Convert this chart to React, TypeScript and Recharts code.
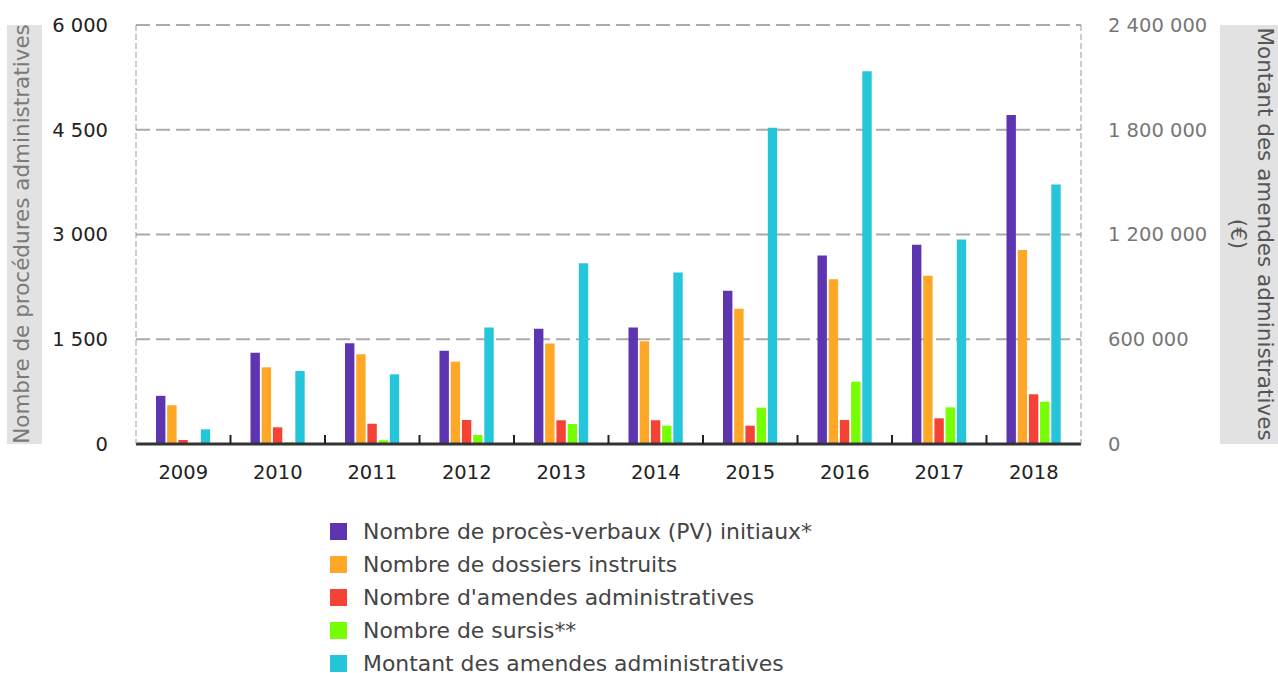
import React from 'react';
import { BarChart, Bar, XAxis, YAxis, CartesianGrid, Legend } from 'recharts';

const years = ['2009', '2010', '2011', '2012', '2013', '2014', '2015', '2016', '2017', '2018'];
const pvInitiaux = [690, 1307, 1442, 1336, 1650, 1670, 2195, 2700, 2855, 4710];
const dossiersInstruits = [555, 1098, 1284, 1179, 1440, 1470, 1938, 2360, 2410, 2778];
const amendes = [57, 239, 290, 344, 340, 340, 262, 344, 368, 712];
const sursis = [0, 25, 53, 129, 286, 262, 520, 892, 525, 606];
const montant = [84000, 418000, 399000, 668000, 1035000, 983000, 1812000, 2135000, 1172000, 1487000];

const leftTicks = [0, 1500, 3000, 4500, 6000];
const rightTicks = [0, 600000, 1200000, 1800000, 2400000];

const seriesNames = [
  'Nombre de procès-verbaux (PV) initiaux*',
  'Nombre de dossiers instruits',
  "Nombre d'amendes administratives",
  'Nombre de sursis**',
  'Montant des amendes administratives',
];
const colors = ['#5e35b1', '#ffa726', '#f44336', '#76ff03', '#26c6da'];

const data = years.map((y, i) => ({
  year: y,
  pv: pvInitiaux[i],
  dossiers: dossiersInstruits[i],
  amendes: amendes[i],
  sursis: sursis[i],
  montant: montant[i],
}));

const FONT = "'DejaVu Sans', Verdana, sans-serif";

const fmt = (v: number) => String(v).replace(/\B(?=(\d{3})+(?!\d))/g, ' ');

const XTick = (props: any) => {
  const { x, payload, index } = props;
  const off = payload && payload.offset ? payload.offset : 0;
  return (
    <g>
      {index > 0 && (
        <line x1={x - off} x2={x - off} y1={444} y2={435} stroke="#222" strokeWidth={2} />
      )}
      <text x={x} y={479} textAnchor="middle" fill="#222" fontSize={19.5} fontFamily={FONT}>
        {payload.value}
      </text>
    </g>
  );
};

const LeftTitle = () => {
  return (
    <g>
      <rect x={7} y={25} width={35} height={419} fill="#e2e2e2" />
      <text
        x={0}
        y={0}
        transform={`translate(29,234) rotate(-90)`}
        textAnchor="middle"
        fill="#7a7a7a"
        fontSize={21.5}
        fontFamily={FONT}
      >
        Nombre de procédures administratives
      </text>
    </g>
  );
};

const RightTitle = () => {
  return (
    <g>
      <rect x={1220} y={25} width={58} height={419} fill="#e2e2e2" />
      <text
        x={0}
        y={0}
        transform={`translate(1258,234) rotate(90)`}
        textAnchor="middle"
        fill="#555"
        fontSize={21.5}
        fontFamily={FONT}
      >
        Montant des amendes administratives
      </text>
      <text
        x={0}
        y={0}
        transform={`translate(1231,234) rotate(90)`}
        textAnchor="middle"
        fill="#555"
        fontSize={21.5}
        fontFamily={FONT}
      >
        (€)
      </text>
    </g>
  );
};

const LegendContent = () => {
  return (
    <div style={{ fontFamily: FONT }}>
      {seriesNames.map((name, i) => (
        <div key={i} style={{ display: 'flex', alignItems: 'center', height: 33 }}>
          <span
            style={{
              display: 'inline-block',
              width: 17,
              height: 17,
              background: colors[i],
              marginRight: 16,
            }}
          />
          <span style={{ fontSize: 21.9, lineHeight: '18px', color: '#444', whiteSpace: 'nowrap' }}>{name}</span>
        </div>
      ))}
    </div>
  );
};

export default function App() {
  return (
    <div style={{ position: 'absolute', left: 0, top: 0, width: 1278, height: 673, background: '#fff' }}>
      <BarChart
        width={1278}
        height={673}
        data={data}
        margin={{ top: 25, right: 0, left: 0, bottom: 189 }}
        barSize={9.4}
        barGap={1.8}
      >
        <CartesianGrid
          vertical={false}
          stroke="#aaa"
          strokeWidth={2}
          strokeDasharray="14 6"
          yAxisId="left"
        />
        <XAxis
          dataKey="year"
          height={40}
          tick={<XTick />}
          tickLine={false}
          axisLine={{ stroke: '#333', strokeWidth: 3 }}
          interval={0}
        />
        <YAxis
          yAxisId="left"
          orientation="left"
          width={136}
          domain={[0, 6000]}
          ticks={leftTicks}
          tickFormatter={fmt}
          tick={{ fill: '#222', fontSize: 19.5, fontFamily: FONT }}
          tickLine={false}
          tickMargin={22}
          axisLine={{ stroke: '#999', strokeDasharray: '6 3' }}
          label={<LeftTitle />}
        />
        <YAxis
          yAxisId="right"
          orientation="right"
          width={197}
          domain={[0, 2400000]}
          ticks={rightTicks}
          tickFormatter={fmt}
          tick={{ fill: '#777', fontSize: 19.5, fontFamily: FONT, textAnchor: 'start' }}
          tickLine={false}
          tickMargin={21}
          axisLine={{ stroke: '#999', strokeDasharray: '6 3' }}
          label={<RightTitle />}
        />
        <Legend
          layout="horizontal"
          verticalAlign="middle"
          align="center"
          content={<LegendContent />}
          wrapperStyle={{ position: 'absolute', left: 330, top: 515, width: 540, height: 157 }}
        />
        <Bar yAxisId="left" dataKey="pv" name={seriesNames[0]} fill={colors[0]} isAnimationActive={false} />
        <Bar yAxisId="left" dataKey="dossiers" name={seriesNames[1]} fill={colors[1]} isAnimationActive={false} />
        <Bar yAxisId="left" dataKey="amendes" name={seriesNames[2]} fill={colors[2]} isAnimationActive={false} />
        <Bar yAxisId="left" dataKey="sursis" name={seriesNames[3]} fill={colors[3]} isAnimationActive={false} />
        <Bar yAxisId="right" dataKey="montant" name={seriesNames[4]} fill={colors[4]} isAnimationActive={false} />
      </BarChart>
    </div>
  );
}
